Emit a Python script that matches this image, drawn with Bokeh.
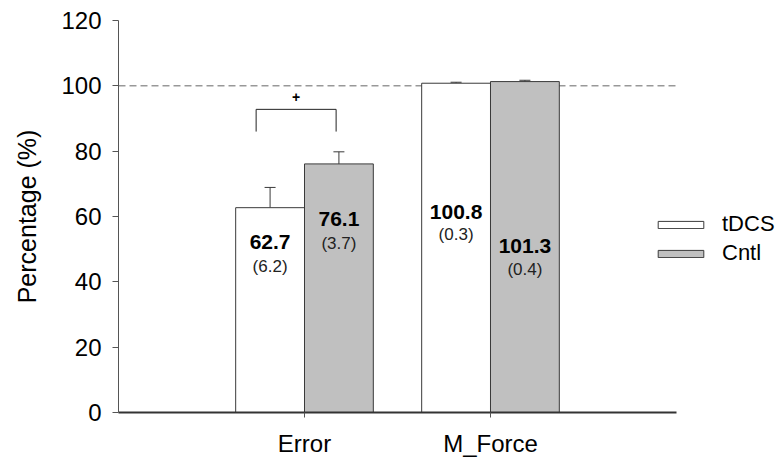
from bokeh.plotting import figure
from bokeh.models import (FixedTicker, Whisker, TeeHead, ColumnDataSource, Legend,
                          LegendItem, Range1d)
from bokeh.core.properties import value
from bokeh.embed import file_html
from bokeh.resources import INLINE

# ---- data ----
categories = ["Error", "M_Force"]
groups = ["tDCS", "Cntl"]
tdcs_mean = [62.7, 100.8]
tdcs_se = [6.2, 0.3]
cntl_mean = [76.1, 101.3]
cntl_se = [3.7, 0.4]
y_ticks = [0, 20, 40, 60, 80, 100, 120]
reference_level = 100
bracket_label = "+"

# ---- layout constants (positions, not data) ----
cat_x = [i + 1 for i in range(len(categories))]
x_end = len(categories) + 1
bar_w = 0.37
off = bar_w / 2
tdcs_x = [c - off for c in cat_x]
cntl_x = [c + off for c in cat_x]
tdcs_label_y = [52.1, 61.3]
tdcs_paren_y = [44.6, 54.4]
cntl_label_y = [59.1, 51.1]
cntl_paren_y = [51.7, 43.8]

FONT = "Liberation Sans"
EDGE = "#3a3a3a"

src_t = ColumnDataSource(dict(x=tdcs_x, top=tdcs_mean, up=[m + s for m, s in zip(tdcs_mean, tdcs_se)],
                              lbl=[f"{m:.1f}" for m in tdcs_mean], plbl=[f"({s:.1f})" for s in tdcs_se],
                              ly=tdcs_label_y, py=tdcs_paren_y))
src_c = ColumnDataSource(dict(x=cntl_x, top=cntl_mean, up=[m + s for m, s in zip(cntl_mean, cntl_se)],
                              lbl=[f"{m:.1f}" for m in cntl_mean], plbl=[f"({s:.1f})" for s in cntl_se],
                              ly=cntl_label_y, py=cntl_paren_y))

# frame spans x=118..783 px; 1 x-unit = 186 px so the drawn axis ends at x_end
p = figure(width=783, height=462, output_backend="svg", toolbar_location=None,
           x_range=Range1d(0, 665 / 186), y_range=Range1d(0, 120),
           min_border_left=118, min_border_right=0, min_border_top=20, min_border_bottom=50)
p.outline_line_color = None
p.grid.visible = False
p.background_fill_color = "white"
p.border_fill_color = "white"

# reference dashed line (limited to the axis extent)
p.line(x=[0, x_end], y=[reference_level, reference_level], line_color="#666666",
       line_dash="7 4", line_width=1)

r_t = p.vbar(x="x", top="top", width=bar_w, bottom=0, source=src_t,
             fill_color="white", line_color=EDGE, line_width=1)
r_c = p.vbar(x="x", top="top", width=bar_w, bottom=0, source=src_c,
             fill_color="#c0c0c0", line_color=EDGE, line_width=1)

for src in (src_t, src_c):
    p.add_layout(Whisker(base="x", lower="top", upper="up", source=src,
                         line_color=EDGE, line_width=1,
                         upper_head=TeeHead(size=11, line_color=EDGE, line_width=1),
                         lower_head=None))
    p.text(x="x", y="ly", text="lbl", source=src, text_align="center", text_baseline="middle",
           text_font=value(FONT), text_font_style="bold", text_font_size="21px", text_color="black")
    p.text(x="x", y="py", text="plbl", source=src, text_align="center", text_baseline="middle",
           text_font=value(FONT), text_font_size="17px", text_color="#222222")

# significance bracket over the Error pair
b_low = max(tdcs_mean[0] + tdcs_se[0], cntl_mean[0] + cntl_se[0]) + 6.2
b_high = b_low + 6.8
bx0 = tdcs_x[0] - 0.075
bx1 = cntl_x[0] - 0.015
p.line(x=[bx0, bx0, bx1, bx1], y=[b_low, b_high, b_high, b_low], line_color="#222222", line_width=1)
p.text(x=[(bx0 + bx1) / 2], y=[b_high + 3.8], text=[bracket_label], text_align="center",
       text_baseline="middle", text_font=value(FONT), text_font_style="bold",
       text_font_size="14px", text_color="black")

# axes
p.yaxis.ticker = FixedTicker(ticks=y_ticks)
p.yaxis.minor_tick_line_color = None
p.yaxis.major_tick_out = 6
p.yaxis.major_tick_in = 0
p.yaxis.axis_line_color = "#555555"
p.yaxis.major_tick_line_color = "#555555"
p.yaxis.major_label_text_font = FONT
p.yaxis.major_label_text_font_size = "24px"
p.yaxis.major_label_text_color = "black"
p.yaxis.major_label_standoff = 11
p.yaxis.axis_label = "Percentage (%)"
p.yaxis.axis_label_text_font = FONT
p.yaxis.axis_label_text_font_size = "25px"
p.yaxis.axis_label_text_font_style = "normal"
p.yaxis.axis_label_text_color = "black"
p.yaxis.axis_label_standoff = 17

p.xaxis.ticker = FixedTicker(ticks=cat_x)
p.xaxis.bounds = (0, x_end)
p.xaxis.major_label_overrides = {c: n for c, n in zip(cat_x, categories)}
p.xaxis.minor_tick_line_color = None
p.xaxis.major_tick_out = 5
p.xaxis.major_tick_in = 0
p.xaxis.axis_line_color = "#333333"
p.xaxis.axis_line_width = 2
p.xaxis.major_tick_line_color = "#555555"
p.xaxis.major_label_text_font = FONT
p.xaxis.major_label_text_font_size = "24px"
p.xaxis.major_label_text_color = "black"
p.xaxis.major_label_standoff = 12

legend = Legend(items=[LegendItem(label=groups[0], renderers=[r_t]),
                       LegendItem(label=groups[1], renderers=[r_c])],
                location=(534, 146), glyph_width=57, glyph_height=9, label_standoff=13,
                spacing=3, padding=0, margin=0, border_line_color=None,
                background_fill_alpha=0, label_text_font=FONT, label_text_font_size="22px",
                label_text_color="black", label_height=24)
p.add_layout(legend, "center")

open("out.html", "w").write(file_html(p, INLINE))
